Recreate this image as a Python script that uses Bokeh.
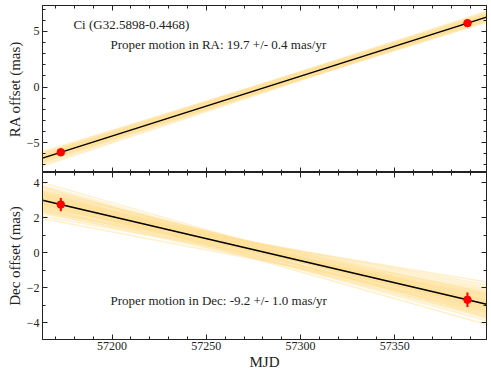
import numpy as np
from bokeh.plotting import figure
from bokeh.layouts import column
from bokeh.models import Range1d, LinearAxis, SingleIntervalTicker, CustomLabelingPolicy
from bokeh.embed import file_html
from bokeh.resources import INLINE
from bokeh.core.properties import value

# ---- data ----
mjd = [57172.8, 57388.5]
ra = [-5.88, 5.75]
dec = [2.76, -2.68]
dec_err = [0.38, 0.42]
x_ticks = [57200, 57250, 57300, 57350]
ra_ticks = [-5, 0, 5]
dec_ticks = [-4, -2, 0, 2, 4]
title_text = "Ci (G32.5898-0.4468)"
ra_text = "Proper motion in RA: 19.7 +/- 0.4 mas/yr"
dec_text = "Proper motion in Dec: -9.2 +/- 1.0 mas/yr"

# posterior sample fits: offsets (mas) at the two epochs
ra_s1 = [-5.80, -6.10, -5.58, -5.98, -5.70, -6.30, -5.86, -5.43, -6.03, -5.76,
         -6.43, -5.66, -5.93, -5.33, -6.16, -5.83, -5.53, -6.20, -5.90, -5.63,
         -6.56, -5.78, -6.00, -5.48, -6.08, -5.73, -5.88, -6.26, -5.60, -5.96]
ra_s2 = [5.85, 5.57, 6.03, 5.65, 5.43, 5.93, 5.75, 6.13, 5.53, 5.83,
         5.70, 6.25, 5.37, 5.90, 5.63, 5.80, 6.05, 5.47, 5.73, 5.97,
         5.60, 5.87, 5.30, 5.77, 6.17, 5.67, 5.95, 5.50, 5.85, 5.73]
dec_s1 = [2.81, 2.44, 3.17, 2.64, 2.94, 2.21, 3.03, 2.73, 3.38, 2.55,
          2.85, 2.32, 3.11, 2.68, 3.47, 2.47, 2.90, 2.09, 2.98, 2.60,
          3.24, 2.39, 2.77, 3.06, 2.26, 2.87, 2.51, 3.31, 2.70, 3.15,
          1.91, 2.96, 2.63, 3.71, 2.36, 2.83, 2.57, 3.02, 2.16, 3.20,
          2.74, 2.91, 2.43, 3.44, 2.66, 3.09, 2.04, 2.80, 3.28, 2.53,
          1.76, 3.00, 2.29, 2.88, 3.56, 2.61, 3.12, 2.48, 2.79, 2.18]
dec_s2 = [-2.90, -2.33, -2.58, -3.16, -2.08, -2.73, -2.99, -2.24, -2.66, -3.34,
          -2.41, -2.53, -2.80, -1.85, -3.08, -2.61, -2.17, -2.93, -3.26, -2.49,
          -2.70, -2.30, -3.45, -2.56, -2.02, -2.85, -3.03, -2.44, -1.74, -2.77,
          -2.22, -3.20, -2.63, -2.96, -1.48, -3.58, -2.37, -2.82, -2.12, -3.11,
          -2.59, -2.88, -1.95, -3.31, -2.51, -2.75, -2.26, -3.78, -2.39, -3.04,
          -2.68, -2.06, -3.14, -2.47, -2.98, -1.63, -3.38, -2.54, -2.79, -2.18]

X_LO, X_HI = 57163.1, 57398.6
FONT = "Liberation Serif"
INK = "#222222"
BAND = "#FFE29A"

NO_LABELS = CustomLabelingPolicy(code="""
for (const i of Array.from(indices)) { indices.unset(i) }
return indices
""")


def extrap(v1, v2):
    t0, t1 = mjd
    f_lo = (X_LO - t0) / (t1 - t0)
    f_hi = (X_HI - t0) / (t1 - t0)
    return [v1 + (v2 - v1) * f_lo, v1 + (v2 - v1) * f_hi]


def minus(ticks):
    return {t: (("\u2212" + str(abs(t))) if t < 0 else str(t)) for t in ticks}


x_range = Range1d(X_LO, X_HI)


def hidden_axis(ticker):
    return LinearAxis(ticker=ticker, major_label_policy=NO_LABELS,
                      major_label_text_font_size="0px", major_label_standoff=0)


def style(p, yticker, yticks, ylabel):
    p.grid.visible = False
    p.outline_line_color = INK
    p.outline_line_width = 1
    p.background_fill_color = "white"
    p.border_fill_color = "white"
    yax = p.yaxis[0]
    yax.ticker = yticker
    yax.major_label_overrides = minus(yticks)
    yax.axis_label = ylabel
    yax.axis_label_text_font = FONT
    yax.axis_label_text_font_size = "15px"
    yax.axis_label_text_font_style = "normal"
    yax.axis_label_text_color = INK
    yax.axis_label_standoff = 1
    yax.major_label_text_font = FONT
    yax.major_label_text_font_size = "12px"
    yax.major_label_text_color = INK
    yax.major_label_standoff = 3
    p.add_layout(hidden_axis(yticker), "right")
    p.add_layout(hidden_axis(SingleIntervalTicker(interval=50, num_minor_ticks=5)), "above")
    for ax in p.axis:
        ax.major_tick_in = 5
        ax.major_tick_out = 0
        ax.minor_tick_in = 3
        ax.minor_tick_out = 0
        ax.major_tick_line_color = INK
        ax.minor_tick_line_color = INK
        ax.axis_line_color = INK


# ---- top panel: RA ----
p1 = figure(width=488, height=172, x_range=x_range, y_range=Range1d(-7.7, 7.34),
            output_backend="svg", toolbar_location=None,
            min_border_left=42, min_border_right=2, min_border_top=5, min_border_bottom=0)
p1.xaxis.ticker = SingleIntervalTicker(interval=50, num_minor_ticks=5)
p1.xaxis.major_label_policy = NO_LABELS
p1.xaxis.major_label_text_font_size = "0px"
p1.xaxis.major_label_standoff = 0
style(p1, SingleIntervalTicker(interval=5, num_minor_ticks=5), ra_ticks, "RA offset (mas)")

ra_xs = [[X_LO, X_HI] for _ in ra_s1]
ra_ys = [extrap(a, b) for a, b in zip(ra_s1, ra_s2)]
p1.multi_line(ra_xs, ra_ys, line_color=BAND, line_alpha=0.5, line_width=1.5)
p1.line([X_LO, X_HI], extrap(ra[0], ra[1]), line_color="black", line_width=1.5)
p1.scatter(mjd, ra, size=7.5, color="red")
p1.text(x=[57179.5], y=[5.6], text=[title_text], text_font=value(FONT),
        text_font_size="13px", text_color=INK, text_baseline="middle", text_align="left")
p1.text(x=[57199.2], y=[3.8], text=[ra_text], text_font=value(FONT),
        text_font_size="13px", text_color=INK, text_baseline="middle", text_align="left")

# ---- bottom panel: Dec ----
p2 = figure(width=488, height=205, x_range=x_range, y_range=Range1d(-4.95, 4.59),
            output_backend="svg", toolbar_location=None,
            min_border_left=42, min_border_right=2, min_border_top=0, min_border_bottom=38)
p2.xaxis.ticker = SingleIntervalTicker(interval=50, num_minor_ticks=5)
p2.xaxis.axis_label = "MJD"
style(p2, SingleIntervalTicker(interval=2, num_minor_ticks=2), dec_ticks, "Dec offset (mas)")
for ax in p2.below:
    ax.axis_label_text_font = FONT
    ax.axis_label_text_font_size = "15px"
    ax.axis_label_text_font_style = "normal"
    ax.axis_label_text_color = INK
    ax.axis_label_standoff = 1
    ax.major_label_text_font = FONT
    ax.major_label_text_font_size = "12px"
    ax.major_label_text_color = INK
    ax.major_label_standoff = 2

dec_xs = [[X_LO, X_HI] for _ in dec_s1]
dec_ys = [extrap(a, b) for a, b in zip(dec_s1, dec_s2)]
p2.multi_line(dec_xs, dec_ys, line_color=BAND, line_alpha=0.5, line_width=1.5)
p2.line([X_LO, X_HI], extrap(dec[0], dec[1]), line_color="black", line_width=1.5)
lo = [d - e for d, e in zip(dec, dec_err)]
hi = [d + e for d, e in zip(dec, dec_err)]
p2.segment(x0=mjd, y0=lo, x1=mjd, y1=hi, line_color="red", line_width=2)
p2.scatter(mjd, dec, size=7.5, color="red")
p2.text(x=[57199.2], y=[-2.73], text=[dec_text], text_font=value(FONT),
        text_font_size="13px", text_color=INK, text_baseline="middle", text_align="left")

layout = column(p1, p2, spacing=0)
open("out.html", "w").write(file_html(layout, INLINE))
